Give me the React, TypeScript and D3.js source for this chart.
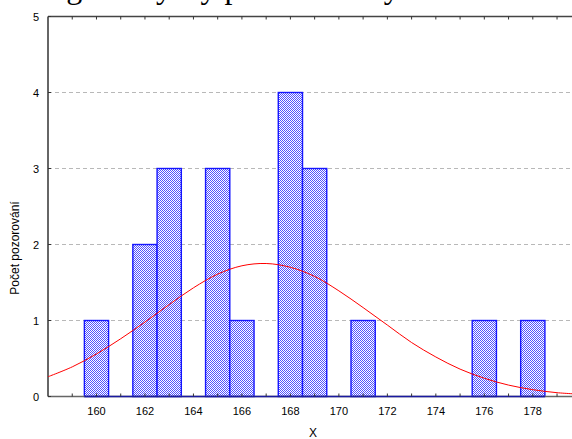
import React from 'react';
import * as d3 from 'd3';

const title = 'Histogram výšky pro studentky';
const binCenters = [160, 161, 162, 163, 164, 165, 166, 167, 168, 169, 170, 171, 172, 173, 174, 175, 176, 177, 178];
const binCounts = [1, 0, 2, 3, 0, 3, 1, 0, 4, 3, 0, 1, 0, 0, 0, 0, 1, 0, 1];
const curveXs = [158, 159, 160, 161, 162, 163, 164, 165, 166, 167, 168, 169, 170, 171, 172, 173, 174, 175, 176, 177, 178, 179, 180];
const curveYs = [0.26, 0.39, 0.56, 0.76, 0.98, 1.21, 1.43, 1.61, 1.72, 1.75, 1.70, 1.58, 1.39, 1.17, 0.94, 0.71, 0.52, 0.36, 0.24, 0.15, 0.09, 0.05, 0.03];
const xTickLabels = [160, 162, 164, 166, 168, 170, 172, 174, 176, 178];
const xMinorTicks = [159, 160, 161, 162, 163, 164, 165, 166, 167, 168, 169, 170, 171, 172, 173, 174, 175, 176, 177, 178, 179];
const yTickLabels = [0, 1, 2, 3, 4, 5];
const gridValues = [1, 2, 3, 4];
const xAxisTitle = 'X';
const yAxisTitle = 'Počet pozorování';

const W = 572;
const H = 439;
const left = 48;
const top = 16.5;
const bottom = 396.5;

export default function App() {
  const x = d3.scaleLinear().domain([158, 180]).range([left, left + 22 * 24.24]);
  const y = d3.scaleLinear().domain([0, 5]).range([bottom, top]);
  const line = d3
    .line<number>()
    .x((_, i) => x(curveXs[i]))
    .y((d) => y(d))
    .curve(d3.curveCatmullRom);
  const sans = '"Liberation Sans", Arial, sans-serif';
  return (
    <div style={{ position: 'fixed', left: 0, top: 0, width: W, height: H, background: '#fff' }}>
      <svg width={W} height={H} style={{ display: 'block' }}>
        <defs>
          <pattern id="hatch" width={2} height={2} patternUnits="userSpaceOnUse">
            <rect width={2} height={2} fill="#ffffff" shapeRendering="crispEdges" />
            <rect x={0} y={0} width={1} height={1} fill="#5252ff" shapeRendering="crispEdges" />
            <rect x={1} y={1} width={1} height={1} fill="#5252ff" shapeRendering="crispEdges" />
          </pattern>
        </defs>
        <rect width={W} height={H} fill="#fff" />
        <text x={-3} y={-2} fontFamily='"Liberation Serif", "Times New Roman", serif' fontSize={32} fill="#000">
          {title}
        </text>
        {gridValues.map((g) => (
          <line key={g} x1={left} x2={W} y1={y(g)} y2={y(g)} stroke="#b8b8b8" strokeDasharray="4,3" strokeWidth={1} />
        ))}
        {binCenters.map((c, i) =>
          binCounts[i] > 0 ? (
            <rect
              key={c}
              x={x(c - 0.5)}
              y={y(binCounts[i])}
              width={x(c + 0.5) - x(c - 0.5)}
              height={y(0) - y(binCounts[i])}
              fill="url(#hatch)"
              stroke="#1515ff"
              strokeWidth={1.4}
            />
          ) : null
        )}
        <line x1={left} x2={W} y1={top} y2={top} stroke="#444" strokeWidth={1.5} />
        <line x1={left} x2={W} y1={bottom} y2={bottom} stroke="#666" strokeWidth={1.5} />
        <line x1={x(159.5)} x2={x(178.5)} y1={bottom} y2={bottom} stroke="#1a1aa0" strokeWidth={1.5} />
        <line x1={left} x2={left} y1={top} y2={bottom} stroke="#333" strokeWidth={1.5} />
        {xMinorTicks.map((t) => (
          <g key={t}>
            <line x1={x(t)} x2={x(t)} y1={top} y2={top + 3} stroke="#333" strokeWidth={1} />
            <line x1={x(t)} x2={x(t)} y1={bottom} y2={bottom - 3} stroke="#333" strokeWidth={1} />
          </g>
        ))}
        {yTickLabels.map((t) => (
          <g key={t}>
            <line x1={left} x2={left + 3} y1={y(t)} y2={y(t)} stroke="#333" strokeWidth={1} />
            <text x={39} y={y(t) + 4} textAnchor="end" fontFamily={sans} fontSize={11} fill="#000">
              {t}
            </text>
          </g>
        ))}
        {xTickLabels.map((t) => (
          <text key={t} x={x(t)} y={415} textAnchor="middle" fontFamily={sans} fontSize={11} fill="#000">
            {t}
          </text>
        ))}
        <path d={line(curveYs) || ''} fill="none" stroke="#ff0000" strokeWidth={1} />
        <text x={313} y={437} textAnchor="middle" fontFamily={sans} fontSize={12} fill="#000">
          {xAxisTitle}
        </text>
        <text
          transform="translate(19,248) rotate(-90)"
          textAnchor="middle"
          fontFamily={sans}
          fontSize={12}
          fill="#000"
        >
          {yAxisTitle}
        </text>
      </svg>
    </div>
  );
}
